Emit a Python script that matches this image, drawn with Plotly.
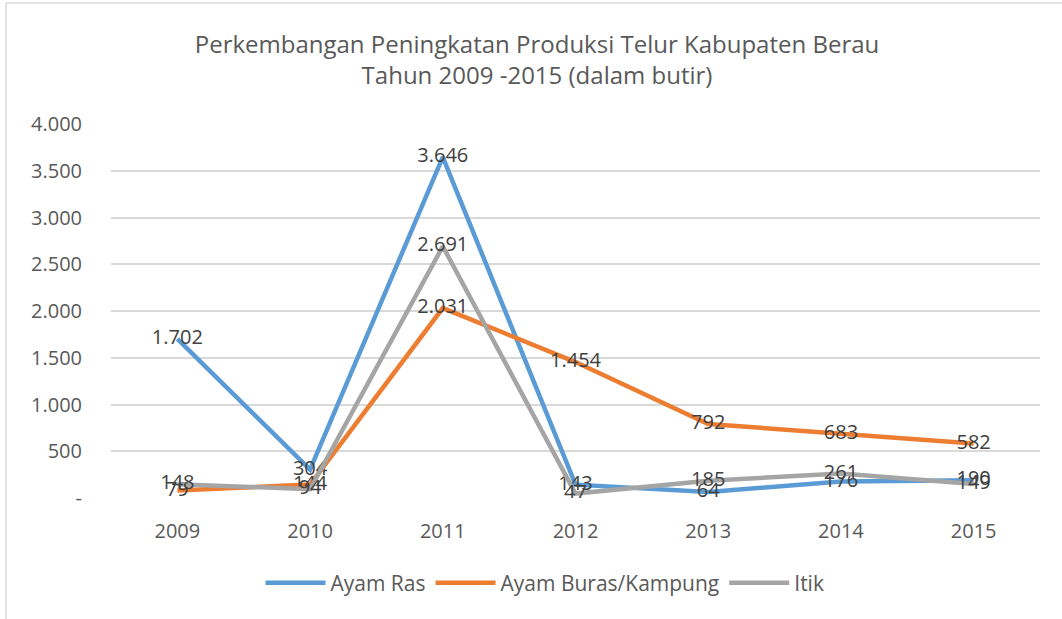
import plotly.graph_objects as go

years = ["2009", "2010", "2011", "2012", "2013", "2014", "2015"]
ayam_ras = [1702, 304, 3646, 143, 64, 176, 190]
ayam_buras = [79, 144, 2031, 1454, 792, 683, 582]
itik = [148, 94, 2691, 47, 185, 261, 149]
series_names = ["Ayam Ras", "Ayam Buras/Kampung", "Itik"]
tick_vals = [0, 500, 1000, 1500, 2000, 2500, 3000, 3500, 4000]
tick_text = ["-", "500", "1.000", "1.500", "2.000", "2.500", "3.000", "3.500", "4.000"]

colors = ["#5B9BD5", "#ED7D31", "#A5A5A5"]
FONT = "Open Sans"
TXT = "#595959"

def fmt(v):
    return f"{v:,}".replace(",", ".")

fig = go.Figure()
for name, vals, c in zip(series_names, [ayam_ras, ayam_buras, itik], colors):
    fig.add_trace(go.Scatter(
        x=years, y=vals, name=name, mode="lines+text",
        line=dict(color=c, width=4.5),
        text=[fmt(v) for v in vals], textposition="middle center",
        textfont=dict(family=FONT, size=20, color="#404040"),
    ))

L, R, T, B = 111, 22, 124, 121
W, H = 1062, 619
pw = W - L - R
ph = H - T - B

def px_x(p):
    return (p - L) / pw

def px_y(p):
    return (H - B - p) / ph

fig.update_layout(
    width=W, height=H,
    margin=dict(l=L, r=R, t=T, b=B),
    paper_bgcolor="white", plot_bgcolor="white",
    font=dict(family=FONT, color=TXT, size=20),
    title=dict(
        text="Perkembangan Peningkatan Produksi Telur Kabupaten Berau<br>Tahun 2009 -2015 (dalam butir)",
        x=px_x(537), xref="paper", xanchor="center",
        y=1 - 53 / H, yanchor="middle",
        font=dict(family=FONT, size=24, color=TXT),
    ),
    showlegend=True,
    legend=dict(
        orientation="h", x=px_x(545), xanchor="center", xref="paper",
        y=px_y(583), yanchor="middle",
        font=dict(family=FONT, size=21, color=TXT),
        itemwidth=60,
    ),
    xaxis=dict(
        type="category", showgrid=False, showline=False, zeroline=False,
        ticks="", tickfont=dict(family=FONT, size=20, color=TXT),
        range=[-0.5, 6.5], ticklabelstandoff=19,
    ),
    yaxis=dict(
        range=[0, 4000], tickvals=tick_vals, ticktext=tick_text,
        showgrid=True, gridcolor="#D9D9D9", gridwidth=1.5,
        zeroline=False, showline=False, ticks="",
        tickfont=dict(family=FONT, size=20, color=TXT),
        ticklabelstandoff=28,
    ),
    shapes=[
        dict(type="line", xref="paper", yref="paper",
             x0=px_x(6), x1=px_x(6), y0=px_y(3), y1=px_y(619),
             line=dict(color="#D9D9D9", width=1.5)),
        dict(type="line", xref="paper", yref="paper",
             x0=px_x(6), x1=px_x(1062), y0=px_y(3), y1=px_y(3),
             line=dict(color="#D9D9D9", width=1.5)),
    ],
)

fig.write_html("out.html", config={"displayModeBar": False},
               post_script="document.body.style.margin='0';")
